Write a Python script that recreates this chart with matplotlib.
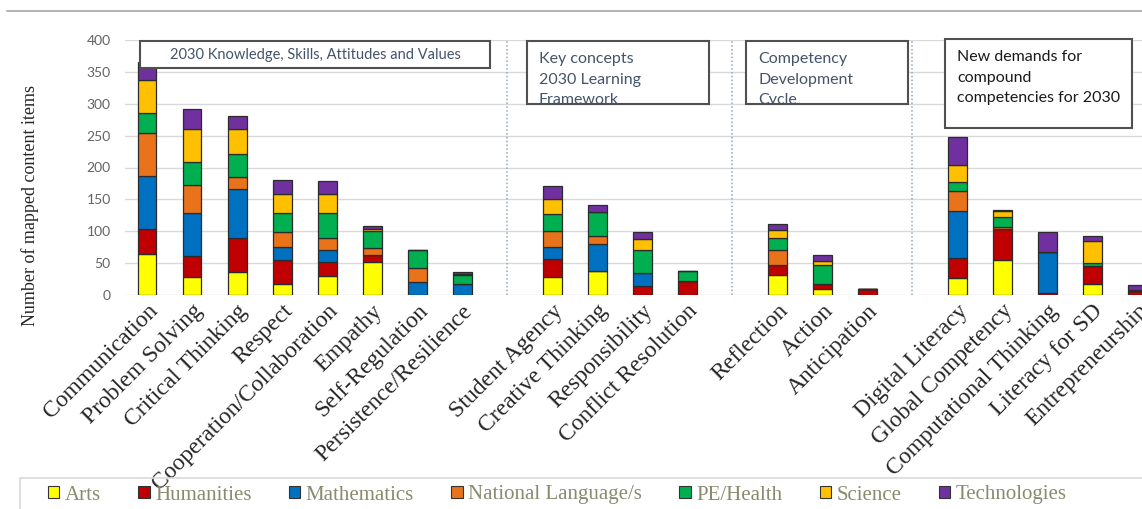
"""
Mapped content items per competency, stacked by subject
"""

import numpy as np
import matplotlib
matplotlib.use("Agg")
import matplotlib.pyplot as plt
from matplotlib.patches import Patch, Rectangle
from matplotlib.lines import Line2D

W, H = 1142, 509

# 카테고리 (그룹별)
groups = [
    ["Communication", "Problem Solving", "Critical Thinking", "Respect",
     "Cooperation/Collaboration", "Empathy", "Self-Regulation",
     "Persistence/Resilience"],
    ["Student Agency", "Creative Thinking", "Responsibility", "Conflict Resolution"],
    ["Reflection", "Action", "Anticipation"],
    ["Digital Literacy", "Global Competency", "Computational Thinking",
     "Literacy for SD", "Entrepreneurship"],
]
group_titles = [
    "2030 Knowledge, Skills, Attitudes and Values",
    "Key concepts\n2030 Learning\nFramework",
    "Competency\nDevelopment\nCycle",
    "New demands for\ncompound\ncompetencies for 2030",
]

subjects = ["Arts", "Humanities", "Mathematics", "National Language/s",
            "PE/Health", "Science", "Technologies"]
colors = ["#FFFF00", "#C00000", "#0070C0", "#E8731A",
          "#00B050", "#FFC000", "#7030A0"]

# 과목별 값 (카테고리 순서)
arts = [64, 29, 36, 18, 30, 52, 0, 0, 29, 37, 0, 0, 31, 9, 0, 26, 55, 0, 18, 0]
humanities = [40, 32, 53, 37, 21, 10, 0, 0, 27, 0, 14, 22, 16, 8, 9, 32, 48, 3, 27, 6]
mathematics = [83, 67, 78, 20, 20, 0, 20, 18, 20, 43, 20, 0, 0, 0, 0, 73, 0, 65, 0, 0]
national_lang = [67, 45, 18, 24, 19, 11, 23, 0, 24, 13, 0, 0, 23, 0, 0, 32, 4, 0, 0, 0]
pe_health = [31, 36, 36, 30, 39, 27, 28, 13, 27, 37, 37, 16, 19, 30, 0, 15, 16, 0, 5, 0]
science = [53, 51, 40, 30, 30, 3, 0, 2, 23, 0, 17, 0, 13, 7, 0, 26, 8, 0, 34, 2]
technologies = [28, 31, 20, 22, 20, 5, 0, 3, 21, 11, 11, 0, 10, 8, 0, 44, 2, 31, 8, 8]

series = [arts, humanities, mathematics, national_lang, pe_health, science, technologies]

y_ticks = [0, 50, 100, 150, 200, 250, 300, 350, 400]


def fx(x):
    return x / W


def fy(y):
    return 1 - y / H


# 위치 계산: 그룹 사이에 빈 슬롯 하나
labels, positions, dividers = [], [], []
slot = 0
for gi, g in enumerate(groups):
    for name in g:
        labels.append(name)
        positions.append(slot)
        slot += 1
    if gi < len(groups) - 1:
        dividers.append(slot)
        slot += 1
positions = np.array(positions)

fig = plt.figure(figsize=(W / 100, H / 100), dpi=100)
ax = fig.add_axes([fx(124.5), fy(295), 1 - fx(124.5), (295 - 40) / H])

bottom = np.zeros(len(labels))
for vals, col, name in zip(series, colors, subjects):
    vals = np.array(vals, dtype=float)
    ax.bar(positions, vals, 0.42, bottom=bottom, color=col,
           edgecolor="#2b2b2b", linewidth=0.9, label=name, zorder=3)
    bottom += vals

for d in dividers:
    ax.axvline(d, color="#8fa8c0", linestyle=(0, (1, 1.5)), linewidth=1.1, zorder=2)

ax.set_xlim(-0.5, 22.1)
ax.set_ylim(0, 400)
ax.set_yticks(y_ticks)
ax.grid(axis="y", color="#d9d9d9", linewidth=1, zorder=0)
for s in ax.spines.values():
    s.set_visible(False)

ax.tick_params(axis="y", length=0, pad=10, labelsize=10, labelcolor="#636363")
for t in ax.get_yticklabels():
    t.set_fontfamily("Lato")

ax.set_xticks(positions)
ax.set_xticklabels(labels, rotation=45, ha="right", rotation_mode="anchor",
                   fontsize=17, family="Liberation Serif", color="#262626")
ax.tick_params(axis="x", length=0, pad=4)

fig.text(fx(30), fy(206), "Number of mapped content items", rotation=90,
         ha="center", va="center", fontsize=13, family="Liberation Serif",
         color="#262626")

# 상단 구분선
fig.add_artist(Line2D([fx(7), 1], [fy(11), fy(11)], color="#a6a6a6", linewidth=1.2))

# 그룹 제목 상자 (x0, y0, x1, y1) 픽셀
boxes = [(140, 41, 490, 68), (527, 41, 709, 104), (746, 41, 908, 104), (945, 39, 1132, 128)]
text_colors = ["#44546A", "#44546A", "#44546A", "#1a1a1a"]
for i, ((x0, y0, x1, y1), title) in enumerate(zip(boxes, group_titles)):
    rect = Rectangle((fx(x0), fy(y1)), (x1 - x0) / W, (y1 - y0) / H,
                     transform=fig.transFigure, facecolor="white",
                     edgecolor="#505050", linewidth=1.5, zorder=5)
    fig.add_artist(rect)
    if i == 0:
        t = fig.text(fx((x0 + x1) / 2), fy((y0 + y1) / 2 + 1), title,
                     ha="center", va="center", fontsize=10.5, family="Lato",
                     color=text_colors[i], zorder=6)
    else:
        t = fig.text(fx(x0 + 12), fy(y0 + 11), title, ha="left", va="top",
                     fontsize=11.5, family="Lato", color=text_colors[i],
                     linespacing=1.6, zorder=6)
        t.set_clip_path(rect)
        t.set_clip_on(True)

# 범례
handles = [Patch(facecolor=c, edgecolor="#333333", linewidth=0.8) for c in colors]
fig.add_artist(Rectangle((fx(20), fy(540)), (1200 - 20) / W, (540 - 478) / H,
                         transform=fig.transFigure, facecolor="none",
                         edgecolor="#d9d9d9", linewidth=1.2, zorder=1))
fig.legend(handles, subjects, loc="center left",
           bbox_to_anchor=(fx(48), fy(495)), ncol=7, frameon=False,
           prop={"family": "Liberation Serif", "size": 15},
           labelcolor="#8a8a6e", handlelength=0.55, handleheight=0.55,
           handletextpad=0.25, columnspacing=1.8, borderaxespad=0, borderpad=0)

plt.savefig("out.png", dpi=100)
plt.close(fig)
